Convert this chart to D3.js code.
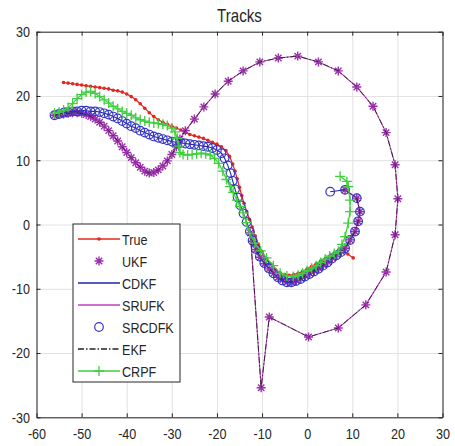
<!DOCTYPE html>
<html>
<head>
<meta charset="utf-8">
<script src="https://cdn.jsdelivr.net/npm/d3@7"></script>
<style>
  body { margin: 0; background: #fff; }
  text { font-family: "Liberation Sans", Arial, sans-serif; fill: #262626; }
</style>
</head>
<body>
<svg id="svg-1" width="455" height="446"></svg>
<script>
// tick values
var xTicks = [-60, -50, -40, -30, -20, -10, 0, 10, 20, 30];
var yTicks = [-30, -20, -10, 0, 10, 20, 30];

// True track
var trueTrack = [[-54,22.1],[-53,22],[-52,21.9],[-51,21.8],[-50,21.7],[-49,21.6],[-48,21.5],[-47,21.4],[-46,21.3],[-45,21.2],
  [-44,21.1],[-43,20.9],[-42,20.8],[-41,20.6],[-40,20.3],[-39,19.9],[-38,19.4],[-37,18.8],[-36,18.1],[-35,17.4],
  [-34,16.8],[-33,16.3],[-32,15.9],[-31,15.6],[-30,15.3],[-29,15],[-28,14.7],[-27,14.3],[-26,14],[-25,13.8],
  [-24,13.6],[-23,13.4],[-22,13.1],[-21,12.8],[-20,12.5],[-19,12.1],[-18,11.5],[-17.2,10.6],[-16.5,9.4],[-16,8.3],
  [-15.5,7.1],[-15,5.8],[-14.5,4.5],[-14,3.3],[-13.4,2],[-12.8,0.8],[-12.2,-0.4],[-11.5,-1.8],[-10.8,-3.1],[-10,-4.2],
  [-9,-5.3],[-8,-6.2],[-7,-7],[-6,-7.5],[-5,-7.8],[-4,-7.9],[-3,-7.8],[-2,-7.6],[-1,-7.3],[0,-6.9],
  [1,-6.5],[2,-6.1],[3,-5.7],[4,-5.3],[5,-4.9],[6,-4.5],[7,-4.2],[8,-4.1],[9,-4.6],[10.2,-5.2]];

// UKF / SRUFK / EKF estimate (same track)
var ukfTrack = [[-56,17],[-55,17.1],[-54,17.2],[-53,17.3],[-52,17.4],[-51,17.4],[-50,17.3],[-49,17.1],[-48,16.8],[-47,16.4],
  [-46,15.9],[-45,15.3],[-44,14.6],[-43,13.8],[-42,13],[-41,12.1],[-40,11.2],[-39,10.4],[-38,9.6],[-37,8.9],
  [-36,8.3],[-35,8],[-34,8.1],[-33,8.5],[-32,9.1],[-31,9.9],[-30,10.9],[-29,12.1],[-28.2,13.3],
  [-27,14.6],[-25,16.4],[-22.9,18.3],[-20.4,20.3],[-17.5,22.3],[-14.2,23.9],[-10.5,25.3],[-6.4,25.9],[-2.1,26.2],[2.5,25.3],
  [6.9,23.9],[11,21.4],[14.6,18.4],[17.5,14.3],[19.5,9.3],[20.1,4],[19.5,-1.6],[17.5,-7.4],[13,-12.5],[6.9,-16.1],
  [0.3,-17.5],[-8.4,-14.4],[-10.2,-25.4],[-12.6,-1.3],[-12,-2.6],[-11.3,-3.9],[-10.4,-5.1],[-9.4,-6.1],[-8.4,-6.9],[-7.4,-7.6],
  [-6.4,-8.2],[-5.4,-8.6],[-4.4,-8.9],[-3.4,-8.9],[-2.4,-8.7],[-1.4,-8.4],[-0.4,-8],[0.6,-7.6],[1.6,-7.2],[2.6,-6.8],
  [3.6,-6.3],[4.6,-5.8],[5.6,-5.2],[6.6,-4.7],[7.6,-4.2],[8.4,-3.7],[9.5,-2.4],[10.6,-1.1],[11.3,0.5],[11.7,2],
  [11,4.1],[8.4,5.4]];

// CDKF / SRCDFK estimate (same track)
var cdkfTrack = [[-56,17],[-55,17.2],[-54,17.4],[-53,17.5],[-52,17.6],[-51,17.6],[-50,17.7],[-49,17.7],[-48,17.6],[-47,17.6],
  [-46,17.5],[-45,17.3],[-44,17.1],[-43,16.8],[-42,16.5],[-41,16.1],[-40,15.7],[-39,15.3],[-38,15],[-37,14.6],
  [-36,14.3],[-35,14],[-34,13.7],[-33,13.5],[-32,13.3],[-31,13.1],[-30,12.9],[-29,12.8],[-28,12.7],[-27,12.6],
  [-26,12.5],[-25,12.4],[-24,12.3],[-23,12.2],[-22,12.1],[-21,11.9],[-20,11.6],[-19,11.1],[-18.3,10.3],[-17.6,9.2],
  [-17,8],[-16.5,6.8],[-16,5.5],[-15.4,4.2],[-14.8,3],[-14.1,1.7],[-13.4,0.4],[-12.7,-1.1],[-12.1,-2.5],[-11.4,-3.8],
  [-10.5,-5],[-9.5,-6],[-8.5,-6.8],[-7.5,-7.6],[-6.5,-8.2],[-5.5,-8.7],[-4.5,-9],[-3.5,-9],[-2.5,-8.8],[-1.5,-8.5],
  [-0.5,-8.1],[0.5,-7.7],[1.5,-7.3],[2.5,-6.9],[3.5,-6.4],[4.5,-5.9],[5.5,-5.3],[6.5,-4.8],[7.5,-4.3],[8.4,-3.7],
  [9.5,-2.4],[10.6,-1.1],[11.3,0.5],[11.7,2],[11,4.1],[8.4,5.4],[5.1,5.1]];

// CRPF estimate
var crpfTrack = [[-56,17.3],[-55,17.5],[-54,17.8],[-53,18.2],[-52,18.8],[-51,19.6],[-50,20.2],[-49,20.6],[-48,20.7],[-47,20.4],
  [-46,19.9],[-45,19.4],[-44,18.9],[-43,18.4],[-42,18],[-41,17.6],[-40,17.3],[-39,17],[-38,16.6],[-37,16.3],
  [-36,16.1],[-35,15.9],[-34,15.8],[-33,15.7],[-32,15.6],[-31,15.4],[-30,15],[-29.3,14.4],[-28.8,13.4],[-28.5,12.2],
  [-28.2,11.2],[-27.5,10.9],[-26.5,10.8],[-25.5,10.9],[-24.5,11],[-23.5,11.1],[-22.5,11],[-21.5,10.8],[-20.5,10.3],[-19.6,9.5],
  [-18.7,8.3],[-17.9,7],[-17.1,5.9],[-16.4,5],[-15.6,3.8],[-14.9,2.8],[-14.2,1.8],[-13.5,0.3],[-12.7,-1.4],[-11.6,-2.9],
  [-10.3,-4.1],[-9,-5.2],[-7.5,-6.4],[-6,-7.6],[-4.5,-8],[-3.1,-8.1],[-2,-7.9],[-1,-7.6],[0,-7.2],[1,-6.8],
  [2,-6.4],[3,-5.9],[4,-5.4],[5,-4.9],[6,-4.5],[6.9,-4.2],[7.7,-3.1],[8.4,-1.9],[9.1,0.2],[9.5,2],
  [9.5,3.8],[9.1,5.9],[8.8,6.7],[7.3,7.5]];

var seriesNames = ["True", "UKF", "CDKF", "SRUFK", "SRCDFK", "EKF", "CRPF"];

var width = 455;
var height = 446;
var plotLeft = 36.5, plotRight = 442.5, plotTop = 31.7, plotBottom = 417.3;
var squeeze = 0.84; // reference font is narrow

var xScale = d3.scaleLinear().domain([-60, 30]).range([plotLeft, plotRight]);
var yScale = d3.scaleLinear().domain([-30, 30]).range([plotBottom, plotTop]);

var svg = d3.select("#svg-1").attr("viewBox", [0, 0, width, height]);

// grid
svg.append("g")
    .attr("class", "grid")
    .attr("transform", "translate(0," + plotBottom + ")")
    .call(d3.axisBottom(xScale).tickValues(xTicks).tickSize(-(plotBottom - plotTop)).tickFormat(""))
    .call(g => g.select(".domain").remove());
svg.append("g")
    .attr("class", "grid")
    .attr("transform", "translate(" + plotLeft + ",0)")
    .call(d3.axisLeft(yScale).tickValues(yTicks).tickSize(-(plotRight - plotLeft)).tickFormat(""))
    .call(g => g.select(".domain").remove());

// star (asterisk) and plus marker shapes
var starPath = "M-4.5,0H4.5M0,-4.5V4.5M-3.2,-3.2L3.2,3.2M-3.2,3.2L3.2,-3.2";
var plusPath = "M-5,0H5M0,-5V5";

var line = d3.line().x(d => xScale(d[0])).y(d => yScale(d[1]));
var plot = svg.append("g");

// True
plot.append("path").datum(trueTrack).attr("d", line)
    .attr("fill", "none").attr("stroke", "#e3261f").attr("stroke-width", 1.2);
plot.append("g").selectAll("circle").data(trueTrack).join("circle")
    .attr("cx", d => xScale(d[0])).attr("cy", d => yScale(d[1])).attr("r", 1.8)
    .attr("fill", "#e3261f");

// UKF markers
plot.append("g").selectAll("path").data(ukfTrack).join("path")
    .attr("transform", d => `translate(${xScale(d[0])},${yScale(d[1])})`)
    .attr("d", starPath).attr("stroke", "#9a2fae").attr("stroke-width", 1.4).attr("fill", "none");

// CDKF line
plot.append("path").datum(cdkfTrack).attr("d", line)
    .attr("fill", "none").attr("stroke", "#1f23a8").attr("stroke-width", 1.1);

// SRUFK line
plot.append("path").datum(ukfTrack).attr("d", line)
    .attr("fill", "none").attr("stroke", "#c23fc0").attr("stroke-width", 1.1);

// SRCDFK markers
plot.append("g").selectAll("circle").data(cdkfTrack).join("circle")
    .attr("cx", d => xScale(d[0])).attr("cy", d => yScale(d[1])).attr("r", 4.3)
    .attr("fill", "none").attr("stroke", "#3535c4").attr("stroke-width", 1.2);

// EKF line
plot.append("path").datum(ukfTrack).attr("d", line)
    .attr("fill", "none").attr("stroke", "#222").attr("stroke-width", 0.9)
    .attr("stroke-dasharray", "6,2,1.5,2");

// CRPF
plot.append("path").datum(crpfTrack).attr("d", line)
    .attr("fill", "none").attr("stroke", "#3fcf3f").attr("stroke-width", 1.2);
plot.append("g").selectAll("path").data(crpfTrack).join("path")
    .attr("transform", d => `translate(${xScale(d[0])},${yScale(d[1])})`)
    .attr("d", plusPath).attr("stroke", "#3fcf3f").attr("stroke-width", 1.3);

// axes box with inward ticks
var axisColor = "#262626";
var fmt = d => String(d);
var xAxisG = svg.append("g")
    .attr("class", "axis")
    .attr("transform", "translate(0," + plotBottom + ")")
    .call(d3.axisBottom(xScale).tickValues(xTicks).tickSizeInner(-4).tickSizeOuter(0).tickPadding(11).tickFormat(fmt))
    .style("font-size", "15px");
var yAxisG = svg.append("g")
    .attr("class", "axis")
    .attr("transform", "translate(" + plotLeft + ",0)")
    .call(d3.axisLeft(yScale).tickValues(yTicks).tickSizeInner(-4).tickSizeOuter(0).tickPadding(6.5).tickFormat(fmt))
    .style("font-size", "15px");
svg.append("g")
    .attr("class", "axis")
    .attr("transform", "translate(0," + plotTop + ")")
    .call(d3.axisTop(xScale).tickValues(xTicks).tickSizeInner(-4).tickSizeOuter(0).tickFormat(""));
svg.append("g")
    .attr("class", "axis")
    .attr("transform", "translate(" + plotRight + ",0)")
    .call(d3.axisRight(yScale).tickValues(yTicks).tickSizeInner(-4).tickSizeOuter(0).tickFormat(""));
svg.selectAll(".grid .tick line").attr("stroke", "#e2e2e2");
svg.selectAll(".axis .domain, .axis .tick line").attr("stroke", axisColor);
svg.selectAll(".axis .tick text").attr("fill", axisColor).style("font-family", null);
// narrow the tick labels
xAxisG.selectAll(".tick text").attr("transform", `scale(${squeeze},1)`);
yAxisG.selectAll(".tick text")
    .attr("x", -6.5 / squeeze)
    .attr("transform", `scale(${squeeze},1)`);

// title
svg.append("text")
    .attr("transform", `translate(${(plotLeft + plotRight) / 2},22) scale(${squeeze},1)`)
    .style("text-anchor", "middle")
    .style("font-size", "18px")
    .text("Tracks");

// legend
var legend = svg.append("g");
legend.append("rect").attr("x", 73).attr("y", 224).attr("width", 107).attr("height", 158)
    .attr("fill", "#fff").attr("stroke", axisColor).attr("stroke-width", 1);
var legendY = d3.scalePoint().domain(seriesNames).range([239, 371]);
var lx1 = 78, lx2 = 120, lxm = 99;
function legendLine(name, color, dash) {
  legend.append("line").attr("x1", lx1).attr("x2", lx2)
      .attr("y1", legendY(name)).attr("y2", legendY(name))
      .attr("stroke", color).attr("stroke-width", 1.3).attr("stroke-dasharray", dash || null);
}
legendLine("True", "#e3261f");
legend.append("circle").attr("cx", lxm).attr("cy", legendY("True")).attr("r", 1.8).attr("fill", "#e3261f");
legend.append("path").attr("transform", `translate(${lxm},${legendY("UKF")})`)
    .attr("d", starPath).attr("stroke", "#9a2fae").attr("stroke-width", 1.4);
legendLine("CDKF", "#1f23a8");
legendLine("SRUFK", "#c23fc0");
legend.append("circle").attr("cx", lxm).attr("cy", legendY("SRCDFK")).attr("r", 4.3)
    .attr("fill", "none").attr("stroke", "#3535c4").attr("stroke-width", 1.2);
legendLine("EKF", "#222", "6,2,1.5,2");
legendLine("CRPF", "#3fcf3f");
legend.append("path").attr("transform", `translate(${lxm},${legendY("CRPF")})`)
    .attr("d", plusPath).attr("stroke", "#3fcf3f").attr("stroke-width", 1.3);

legend.selectAll("text.lbl").data(seriesNames).join("text")
    .attr("class", "lbl")
    .attr("transform", d => `translate(122,${legendY(d) + 5.5}) scale(${squeeze},1)`)
    .style("font-size", "15px")
    .text(d => d);
</script>
</body>
</html>
